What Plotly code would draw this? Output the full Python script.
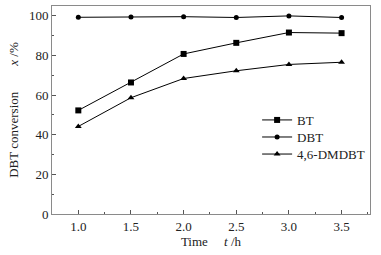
import plotly.graph_objects as go

time_h = [1.0, 1.5, 2.0, 2.5, 3.0, 3.5]
bt = [52.3, 66.4, 80.8, 86.4, 91.6, 91.3]
dbt = [99.3, 99.5, 99.6, 99.2, 100.0, 99.2]
dmdbt = [44.2, 58.7, 68.4, 72.3, 75.5, 76.6]

x_ticks = [1.0, 1.5, 2.0, 2.5, 3.0, 3.5]
x_tick_labels = ["1.0", "1.5", "2.0", "2.5", "3.0", "3.5"]
y_ticks = [0, 20, 40, 60, 80, 100]

font = "Times New Roman, Liberation Serif, serif"
NB = "\u00a0"
fig = go.Figure()
series = [("BT", bt, "square", 6, "legend"), ("DBT", dbt, "circle", 5, "legend2"),
          ("4,6-DMDBT", dmdbt, "triangle-up", 6, "legend3")]
for name, vals, sym, sz, lg in series:
    fig.add_trace(go.Scatter(x=time_h, y=vals, name=name, mode="lines+markers",
                             line=dict(color="black", width=1), legend=lg, showlegend=True,
                             marker=dict(symbol=sym, size=sz, color="black")))

axis_common = dict(showline=True, linecolor="#8a8a8a", linewidth=1, mirror=True,
                   ticks="inside", tickcolor="#555", ticklen=4, showgrid=False, zeroline=False,
                   automargin=False,
                   tickfont=dict(family=font, size=13, color="#222"))
fig.update_xaxes(range=[0.75, 3.77], tickvals=x_ticks, ticktext=x_tick_labels,
                 minor=dict(ticks="inside", dtick=0.25, ticklen=2, tickcolor="#555"),
                 title=dict(text="Time" + NB * 5 + "<i>t</i> /h", font=dict(family=font, size=13, color="#222"), standoff=2),
                 **axis_common)
fig.update_yaxes(range=[0, 105], tickvals=y_ticks,
                 minor=dict(ticks="inside", dtick=10, ticklen=2, tickcolor="#555"),
                 title=dict(text="DBT conversion" + NB * 8 + "<i>x</i> /%", font=dict(family=font, size=13, color="#222"), standoff=7),
                 **axis_common)

legend_common = dict(x=0.645, xanchor="left", yanchor="middle", bgcolor="rgba(0,0,0,0)",
                     font=dict(family=font, size=13, color="#222"), itemwidth=30, visible=True)
fig.update_layout(width=381, height=255, margin=dict(l=52, r=11, t=6, b=41),
                  plot_bgcolor="white", paper_bgcolor="white", showlegend=True,
                  font=dict(family=font, color="#222"),
                  legend=dict(y=0.452, **legend_common),
                  legend2=dict(y=0.370, **legend_common),
                  legend3=dict(y=0.288, **legend_common))
fig.write_html("out.html", config={"displayModeBar": False},
               post_script="document.body.style.margin='0';")
